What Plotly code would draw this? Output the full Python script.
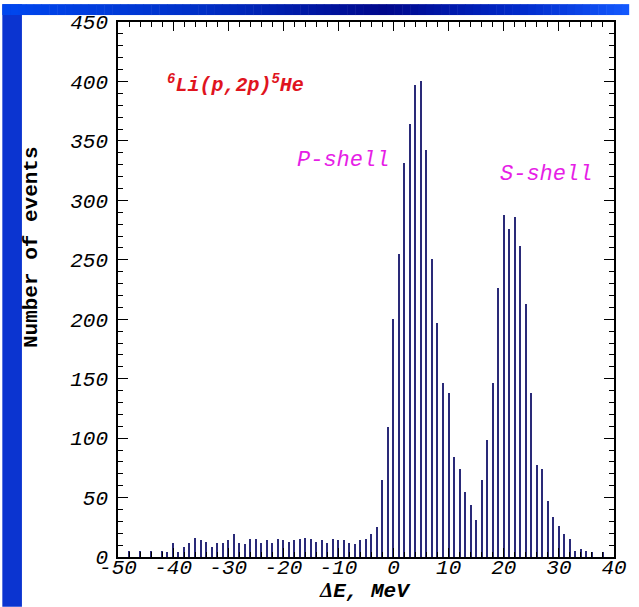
import plotly.graph_objects as go

# Missing-energy spectrum of 6Li(p,2p)5He: 1 MeV bins, counts per bin
energy_mev = [-50, -49, -48, -47, -46, -45, -44, -43, -42, -41,
              -40, -39, -38, -37, -36, -35, -34, -33, -32, -31,
              -30, -29, -28, -27, -26, -25, -24, -23, -22, -21,
              -20, -19, -18, -17, -16, -15, -14, -13, -12, -11,
              -10, -9, -8, -7, -6, -5, -4, -3, -2, -1,
              0, 1, 2, 3, 4, 5, 6, 7, 8, 9,
              10, 11, 12, 13, 14, 15, 16, 17, 18, 19,
              20, 21, 22, 23, 24, 25, 26, 27, 28, 29,
              30, 31, 32, 33, 34, 35, 36, 37, 38, 39, 40]
events = [0, 0, 5, 0, 5, 0, 5, 0, 5, 4,
          12, 4, 8, 12, 16, 14, 13, 8, 12, 12,
          14, 19, 12, 11, 15, 15, 12, 14, 12, 15,
          14, 13, 14, 15, 16, 15, 13, 14, 12, 15,
          14, 14, 12, 11, 14, 15, 19, 25, 65, 109,
          200, 255, 331, 364, 397, 400, 342, 251, 197, 146,
          138, 84, 74, 55, 44, 31, 65, 98, 146, 226,
          288, 276, 286, 262, 213, 138, 77, 74, 47, 34,
          26, 19, 15, 5, 7, 5, 4, 0, 4, 0, 0]

x_ticks = [-50, -40, -30, -20, -10, 0, 10, 20, 30, 40]
x_ticktext = ["-50", "-40", "-30", "-20", "-10", "0", "10", "20", "30", "40"]
y_ticks = [0, 50, 100, 150, 200, 250, 300, 350, 400, 450]

W, H = 639, 607
ML, MR, MT, MB = 118, 15, 18, 50
PW, PH = W - ML - MR, H - MT - MB


def px_x(px):
    return (px - ML) / PW


def px_y(py):
    return (H - MB - py) / PH


MONO = "Liberation Mono"

fig = go.Figure()
fig.add_trace(go.Bar(
    x=energy_mev, y=events, width=0.24,
    marker=dict(color="#2a2a78", line=dict(width=0)),
    hoverinfo="x+y",
))

# slide background: blue frame strips around the white sheet
shapes = [dict(type="rect", xref="paper", yref="paper",
               x0=px_x(0), x1=px_x(20), y0=px_y(H), y1=px_y(0),
               fillcolor="#0b34d0", line=dict(width=0), layer="below")]
stops = [(0, (0, 72, 240)), (200, (0, 48, 200)), (390, (0, 8, 140)),
         (520, (0, 40, 200)), (639, (20, 90, 255))]


def grad(px):
    for (a, ca), (b, cb) in zip(stops, stops[1:]):
        if a <= px <= b:
            t = (px - a) / (b - a)
            return tuple(int(ca[i] + (cb[i] - ca[i]) * t) for i in range(3))
    return stops[-1][1]


step = 8
for x0 in range(0, W, step):
    r, g, b = grad(x0 + step / 2)
    shapes.append(dict(type="rect", xref="paper", yref="paper",
                       x0=px_x(x0), x1=px_x(min(W, x0 + step) + 0.5),
                       y0=px_y(11), y1=px_y(0),
                       fillcolor=f"rgb({r},{g},{b})", line=dict(width=0),
                       layer="below"))

annotations = [
    dict(text="<sup>6</sup>Li(p,2p)<sup>5</sup>He", xref="paper", yref="paper",
         x=px_x(166), y=px_y(80), xanchor="left", yanchor="middle",
         showarrow=False,
         font=dict(family=MONO, size=20, color="#e0141e", weight="bold", style="italic")),
    dict(text="P-shell", xref="paper", yref="paper",
         x=px_x(348), y=px_y(158), xanchor="center", yanchor="middle",
         showarrow=False,
         font=dict(family=MONO, size=22, color="#e61ee6", style="italic")),
    dict(text="S-shell", xref="paper", yref="paper",
         x=px_x(555), y=px_y(172), xanchor="center", yanchor="middle",
         showarrow=False,
         font=dict(family=MONO, size=22, color="#e61ee6", style="italic")),
    dict(text="Number of events", xref="paper", yref="paper",
         x=px_x(30), y=px_y(245), xanchor="center", yanchor="middle",
         textangle=-90, showarrow=False,
         font=dict(family=MONO, size=21, color="black", weight="bold")),
    dict(text="<span style='font-family:Liberation Serif'>Δ</span>E, MeV",
         xref="paper", yref="paper",
         x=px_x(370), y=px_y(591), xanchor="center", yanchor="middle",
         showarrow=False,
         font=dict(family=MONO, size=21, color="black", weight="bold", style="italic")),
]

tickfont = dict(family=MONO, size=21, color="black", style="italic")

fig.update_layout(
    width=W, height=H,
    margin=dict(l=ML, r=MR, t=MT, b=MB),
    paper_bgcolor="white", plot_bgcolor="white",
    showlegend=False, bargap=0,
    shapes=shapes, annotations=annotations,
    xaxis=dict(range=[-50, 40], tickmode="array", tickvals=x_ticks, ticktext=x_ticktext,
               ticks="inside", ticklen=9, tickwidth=1.2, tickcolor="black",
               showline=True, linecolor="black", linewidth=1.5, mirror="ticks",
               showgrid=False, zeroline=False, tickfont=tickfont, ticklabelstandoff=-10,
               minor=dict(dtick=2, ticks="inside", ticklen=5, tickwidth=1, tickcolor="black",
                          showgrid=False)),
    yaxis=dict(range=[0, 450], tickmode="array", tickvals=y_ticks,
               ticks="inside", ticklen=10, tickwidth=1.2, tickcolor="black",
               showline=True, linecolor="black", linewidth=1.5, mirror="ticks",
               showgrid=False, zeroline=False, tickfont=tickfont, ticklabelstandoff=4,
               minor=dict(dtick=10, ticks="inside", ticklen=5, tickwidth=1, tickcolor="black",
                          showgrid=False)),
)

fig.write_html("out.html")
